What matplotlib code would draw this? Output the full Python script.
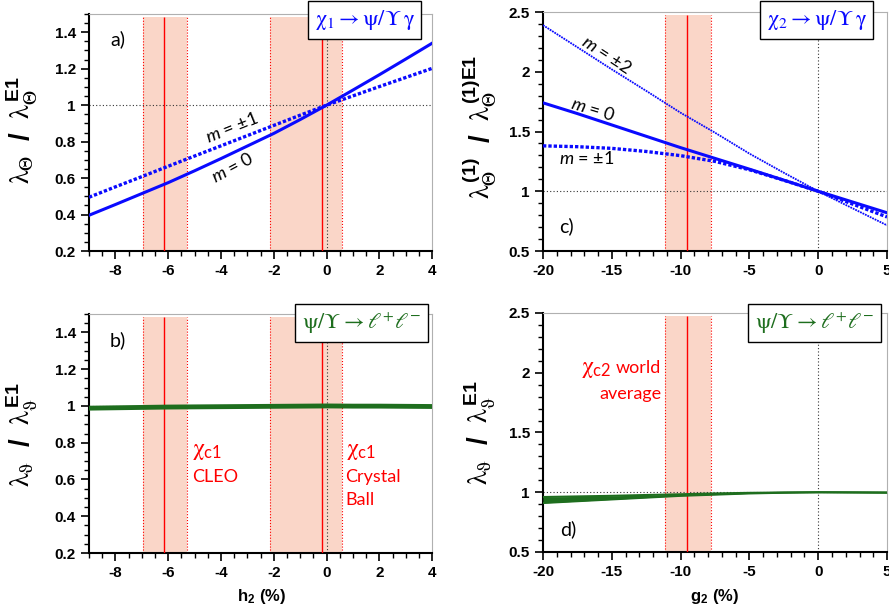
import numpy as np
import matplotlib
matplotlib.use("Agg")
import matplotlib.pyplot as plt
from matplotlib.ticker import MultipleLocator

plt.rcParams['font.family'] = ['Liberation Sans', 'DejaVu Sans']
# upright Greek like the Symbol font, sans bold for the E1 / subscripts
plt.rcParams['mathtext.fontset'] = 'custom'
plt.rcParams['mathtext.rm'] = 'STIXGeneral'
plt.rcParams['mathtext.it'] = 'STIXGeneral'
plt.rcParams['mathtext.bf'] = 'Liberation Sans:bold'
plt.rcParams['mathtext.sf'] = 'Lato:italic'
plt.rcParams['mathtext.cal'] = 'Lato'

# chi_1 scan in h2 (%)
h2 = [-9, -8, -7, -6, -5, -4, -3, -2, -1, 0, 1, 2, 3, 4]
a_m0 = [0.396, 0.455, 0.515, 0.575, 0.64, 0.707, 0.776, 0.845, 0.921, 1.0, 1.083, 1.167, 1.253, 1.34]
a_m1 = [0.495, 0.552, 0.608, 0.665, 0.721, 0.777, 0.833, 0.889, 0.945, 1.0, 1.051, 1.102, 1.152, 1.202]
b_lep = [0.988, 0.990, 0.992, 0.994, 0.995, 0.996, 0.997, 0.998, 0.999, 1.0, 0.999, 0.999, 0.998, 0.997]

# chi_2 scan in g2 (%)
g2 = [-20, -17.5, -15, -12.5, -10, -7.5, -5, -2.5, 0, 2.5, 5]
c_m2 = [2.39, 2.205, 2.02, 1.84, 1.657, 1.49, 1.315, 1.155, 1.0, 0.857, 0.715]
c_m0 = [1.74, 1.65, 1.555, 1.46, 1.365, 1.275, 1.185, 1.093, 1.0, 0.91, 0.82]
c_m1 = [1.38, 1.373, 1.359, 1.333, 1.298, 1.25, 1.18, 1.092, 1.0, 0.893, 0.785]
d_hi = [0.96, 0.965, 0.97, 0.977, 0.983, 0.99, 0.995, 0.998, 1.0, 0.999, 0.998]
d_lo = [0.91, 0.925, 0.94, 0.955, 0.97, 0.98, 0.99, 0.996, 1.0, 0.998, 0.996]

# measurements: (low, central, high)
cleo = (-6.95, -6.15, -5.27)
cball = (-2.15, -0.18, 0.60)
wavg = (-11.1, -9.5, -7.8)

h_ticks = [-8, -6, -4, -2, 0, 2, 4]
h_labels = ['-8', '-6', '-4', '-2', '0', '2', '4']
l1_ticks = [0.2, 0.4, 0.6, 0.8, 1.0, 1.2, 1.4]
l1_labels = ['0.2', '0.4', '0.6', '0.8', '1', '1.2', '1.4']
g_ticks = [-20, -15, -10, -5, 0, 5]
g_labels = ['-20', '-15', '-10', '-5', '0', '5']
l2_ticks = [0.5, 1.0, 1.5, 2.0, 2.5]
l2_labels = ['0.5', '1', '1.5', '2', '2.5']

BLUE = '#0a0aff'
GREEN = '#1e6e1e'
BAND = '#fad6c8'
TXT = ['Lato', 'DejaVu Sans']

fig = plt.figure(figsize=(8.89, 6.10), dpi=100)
ax_a = fig.add_axes([0.1001, 0.5885, 0.386, 0.3885])
ax_c = fig.add_axes([0.6108, 0.5885, 0.387, 0.3918])
ax_b = fig.add_axes([0.1001, 0.0934, 0.386, 0.3918])
ax_d = fig.add_axes([0.6108, 0.0951, 0.387, 0.3918])


def style(ax, xlim, ylim, xt, xl, yt, yl, xminor, yminor):
    ax.set_xlim(*xlim)
    ax.set_ylim(*ylim)
    ax.set_xticks(xt)
    ax.set_xticklabels(xl, fontweight='bold', fontsize=11)
    ax.set_yticks(yt)
    ax.set_yticklabels(yl, fontweight='bold', fontsize=11)
    ax.xaxis.set_minor_locator(MultipleLocator(xminor))
    ax.yaxis.set_minor_locator(MultipleLocator(yminor))
    ax.tick_params(which='major', direction='out', length=6, width=1.2)
    ax.tick_params(which='minor', direction='out', length=3.5, width=1)
    for s in ['left', 'bottom']:
        ax.spines[s].set_linewidth(1.5)
    for s in ['top', 'right']:
        ax.spines[s].set_color('#b0b0b0')
        ax.spines[s].set_linewidth(0.8)
    ax.axhline(1.0, color='#333333', ls=(0, (1, 2)), lw=0.8, zorder=1)
    ax.axvline(0.0, color='#333333', ls=(0, (1, 2)), lw=0.8, zorder=1)


def band(ax, meas, y0, y1):
    lo, mid, hi = meas
    ax.fill_between([lo, hi], y0, y1, color=BAND, lw=0, zorder=0)
    ax.vlines([lo, hi], y0, y1, colors='red', linestyles=':', lw=0.8, zorder=0.5)
    ax.vlines([mid], y0, y1, colors='red', lw=1.0, zorder=3)


def red(ax, x, y, s, size=13, ha='left'):
    ax.text(x, y, s, color='red', fontsize=size, ha=ha, va='baseline', family=TXT)


style(ax_a, (-9, 4), (0.2, 1.5), h_ticks, h_labels, l1_ticks, l1_labels, 0.5, 0.05)
style(ax_b, (-9, 4), (0.2, 1.5), h_ticks, h_labels, l1_ticks, l1_labels, 0.5, 0.05)
style(ax_c, (-20, 5), (0.5, 2.5), g_ticks, g_labels, l2_ticks, l2_labels, 1, 0.1)
style(ax_d, (-20, 5), (0.5, 2.5), g_ticks, g_labels, l2_ticks, l2_labels, 1, 0.1)

for ax in (ax_a, ax_b):
    band(ax, cleo, 0.2, 1.485)
    band(ax, cball, 0.2, 1.485)
for ax in (ax_c, ax_d):
    band(ax, wavg, 0.5, 2.475)

# a)
ax_a.plot(h2, a_m0, color=BLUE, lw=2.2, zorder=4)
ax_a.plot(h2, a_m1, color=BLUE, lw=2.4, ls=(0, (1, 0.6)), zorder=4)
ax_a.text(-3.6, 0.875, r'$\mathsf{m}$ = ±1', fontsize=13, rotation=22, ha='center', va='center',
          family=TXT)
ax_a.text(-3.55, 0.66, r'$\mathsf{m}$ = 0', fontsize=13, rotation=28, ha='center', va='center',
          family=TXT)
ax_a.text(-7.9, 1.36, 'a)', fontsize=14, ha='center', va='center', family=TXT)

# c)
ax_c.plot(g2, c_m2, color=BLUE, lw=1.3, ls=(0, (1, 0.5)), zorder=4)
ax_c.plot(g2, c_m0, color=BLUE, lw=2.2, zorder=4)
ax_c.plot(g2, c_m1, color=BLUE, lw=2.4, ls=(0, (1, 0.6)), zorder=4)
ax_c.text(-15.4, 2.14, r'$\mathsf{m}$ = ±2', fontsize=13, rotation=-33, ha='center', va='center',
          family=TXT)
ax_c.text(-16.4, 1.68, r'$\mathsf{m}$ = 0', fontsize=13, rotation=-17, ha='center', va='center',
          family=TXT)
ax_c.text(-16.8, 1.276, r'$\mathsf{m}$ = ±1', fontsize=13, ha='center', va='center', family=TXT)
ax_c.text(-18.3, 0.71, 'c)', fontsize=14, ha='center', va='center', family=TXT)

# b)
ax_b.plot(h2, b_lep, color=GREEN, lw=3.5, zorder=4)
ax_b.text(-7.9, 1.357, 'b)', fontsize=14, ha='center', va='center', family=TXT)
red(ax_b, -5.1, 0.731, r'$\chi_{\mathcal{c1}}$', size=17)
red(ax_b, -5.1, 0.584, 'CLEO')
red(ax_b, 0.72, 0.731, r'$\chi_{\mathcal{c1}}$', size=17)
red(ax_b, 0.72, 0.584, 'Crystal')
red(ax_b, 0.72, 0.459, 'Ball')

# d)
ax_d.fill_between(g2, d_lo, d_hi, color=GREEN, lw=0, zorder=4)
ax_d.plot(g2, d_hi, color=GREEN, lw=1.5, zorder=4)
ax_d.plot(g2, d_lo, color=GREEN, lw=1.5, zorder=4)
ax_d.text(-18.2, 0.687, 'd)', fontsize=14, ha='center', va='center', family=TXT)
red(ax_d, -15.05, 1.996, r'$\chi_{\mathcal{c2}}$', size=17, ha='right')
red(ax_d, -11.4, 1.996, 'world', ha='right')
red(ax_d, -11.4, 1.783, 'average', ha='right')

# process boxes
box = dict(boxstyle='square,pad=0.3', fc='white', ec='black', lw=1.0)
fig.text(0.41, 0.967, r'$\chi_1 \rightarrow \psi/\Upsilon\,\gamma$', color=BLUE, fontsize=16,
         ha='center', va='center', bbox=box)
fig.text(0.9185, 0.967, r'$\chi_2 \rightarrow \psi/\Upsilon\,\gamma$', color=BLUE, fontsize=16,
         ha='center', va='center', bbox=box)
fig.text(0.4066, 0.4705, r'$\psi/\Upsilon \rightarrow \ell^{+}\ell^{-}$', color=GREEN, fontsize=16,
         ha='center', va='center', bbox=box)
fig.text(0.9162, 0.4705, r'$\psi/\Upsilon \rightarrow \ell^{+}\ell^{-}$', color=GREEN, fontsize=16,
         ha='center', va='center', bbox=box)

# y labels
fig.text(22 / 889, 1 - 130 / 610, r'$\lambda_{\Theta}\ \ \mathbf{/}\ \ \lambda_{\Theta}^{\mathbf{E1}}$',
         rotation=90, fontsize=20, ha='center', va='center')
fig.text(480 / 889, 1 - 127 / 610,
         r'$\lambda_{\Theta}^{\mathbf{(1)}}\ \ \mathbf{/}\ \ \lambda_{\Theta}^{\mathbf{(1)E1}}$',
         rotation=90, fontsize=20, ha='center', va='center')
fig.text(22 / 889, 1 - 435 / 610, r'$\lambda_{\vartheta}\ \ \mathbf{/}\ \ \lambda_{\vartheta}^{\mathbf{E1}}$',
         rotation=90, fontsize=20, ha='center', va='center')
fig.text(480 / 889, 1 - 433 / 610, r'$\lambda_{\vartheta}\ \ \mathbf{/}\ \ \lambda_{\vartheta}^{\mathbf{E1}}$',
         rotation=90, fontsize=20, ha='center', va='center')

# x labels
fig.text(262 / 889, 1 - 597 / 610, r'h$_{\mathbf{2}}$ (%)', fontsize=12, fontweight='bold',
         ha='center', va='center')
fig.text(715 / 889, 1 - 597 / 610, r'g$_{\mathbf{2}}$ (%)', fontsize=12, fontweight='bold',
         ha='center', va='center')

fig.savefig('out.png', dpi=100)
